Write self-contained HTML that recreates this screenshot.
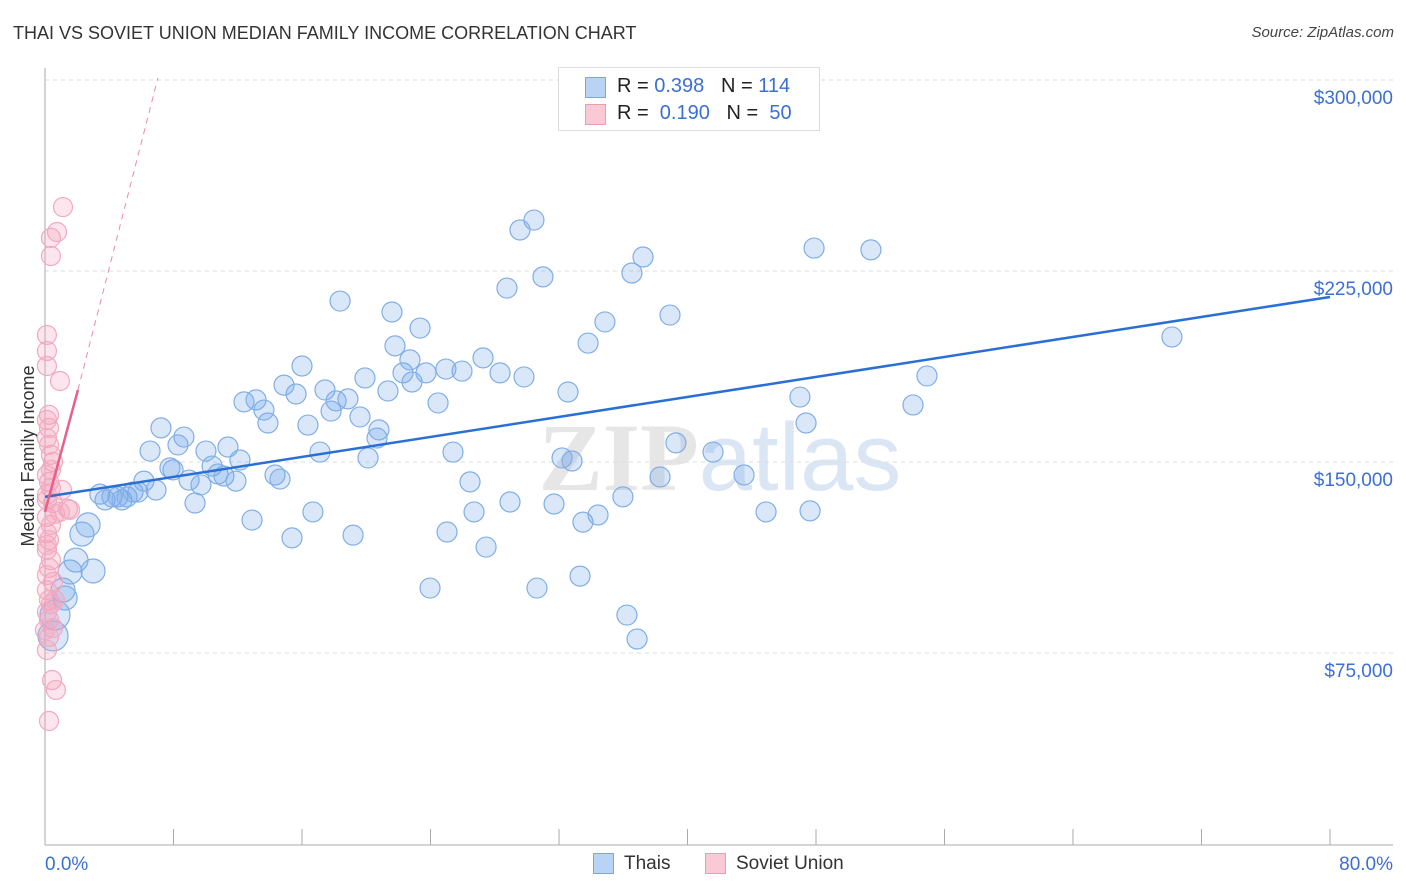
<!DOCTYPE html>
<html><head><meta charset="utf-8"><style>
body{margin:0;background:#fff;font-family:"Liberation Sans",sans-serif;}
#wrap{position:relative;width:1406px;height:892px;overflow:hidden;}
.t{position:absolute;white-space:nowrap;}
</style></head><body>
<div id="wrap">
<div class="t" style="left:13px;top:23px;font-size:18px;color:#333;">THAI VS SOVIET UNION MEDIAN FAMILY INCOME CORRELATION CHART</div>
<div class="t" style="right:12px;top:24px;font-size:15px;color:#444;font-style:italic;">Source: ZipAtlas.com</div>
<svg id="svg" width="1406" height="892" style="position:absolute;left:0;top:0">
<text x="720" y="490" text-anchor="middle" font-size="96" font-family="Liberation Serif" font-weight="bold" fill="#e6e6e6">ZIP<tspan fill="#dbe6f5" font-family="Liberation Sans" font-weight="normal">atlas</tspan></text>
</svg>
<div style="position:absolute;left:558px;top:67px;width:260px;height:62px;border:1px solid #ddd;background:#fff;font-size:20px;color:#222;">
<div style="position:absolute;left:26px;top:9px;width:19px;height:19px;background:#b9d3f5;border:1px solid #7ca6e2;"></div>
<div class="t" style="left:58px;top:7px;">R = <span style="color:#3b6fd4">0.398</span>&nbsp;&nbsp;&nbsp;N = <span style="color:#3b6fd4">114</span></div>
<div style="position:absolute;left:26px;top:36px;width:19px;height:19px;background:#f9c9d6;border:1px solid #ec9bb4;"></div>
<div class="t" style="left:58px;top:34px;">R = &nbsp;<span style="color:#3b6fd4">0.190</span>&nbsp;&nbsp;&nbsp;N = &nbsp;<span style="color:#3b6fd4">50</span></div>
</div>
<div style="position:absolute;left:593px;top:853px;font-size:19px;color:#333;">
<div style="position:absolute;left:0;top:0;width:19px;height:19px;background:#b9d3f5;border:1px solid #7ca6e2;"></div>
<div class="t" style="left:31px;top:0;">Thais</div></div>
<div style="position:absolute;left:705px;top:853px;font-size:19px;color:#333;">
<div style="position:absolute;left:0;top:0;width:19px;height:19px;background:#f9c9d6;border:1px solid #ec9bb4;"></div>
<div class="t" style="left:31px;top:0;">Soviet Union</div></div>
</div>
<script>
const yTicks=[75000,150000,225000,300000];
const yTickLabels=["$75,000","$150,000","$225,000","$300,000"];
const xTickLabels=["0.0%","80.0%"];
const thaiX=[0.50,0.62,1.12,1.25,1.56,1.93,2.30,2.68,2.99,3.42,3.74,4.17,4.54,4.79,5.11,5.48,5.79,6.16,6.54,6.91,7.22,7.78,7.97,8.28,8.65,8.97,9.34,9.71,10.02,10.40,10.77,11.14,11.39,11.89,12.14,12.39,12.89,13.14,13.63,13.88,14.32,14.63,14.88,15.38,15.63,16.00,16.37,16.68,17.12,17.43,17.81,18.12,18.37,18.86,19.18,19.61,19.92,20.11,20.67,20.79,21.35,21.60,21.79,22.29,22.72,22.85,23.35,23.72,23.97,24.47,24.96,25.03,25.40,25.96,26.46,26.71,27.27,27.46,28.33,28.76,28.95,29.57,29.82,30.44,30.63,31.00,31.69,32.19,32.56,32.81,33.31,33.49,33.81,34.43,34.86,35.98,36.23,36.54,36.86,37.23,38.29,38.91,39.28,41.59,43.52,44.89,47.00,47.38,47.63,47.88,51.42,54.04,54.91,70.16];
const thaiY=[81.7,89.9,99.7,96.6,106.8,111.5,121.7,125.3,107.2,137.4,135.1,136.3,136.3,135.1,136.3,138.2,138.2,142.5,154.3,139.0,163.4,147.7,146.9,156.7,159.8,142.9,133.9,141.0,154.3,148.4,145.3,144.5,155.9,142.5,150.8,173.6,127.2,174.4,170.4,165.3,144.9,143.3,180.2,120.2,176.7,187.7,164.5,130.4,153.9,178.3,170.0,174.0,213.2,174.8,121.3,167.7,183.0,151.6,159.4,162.6,177.9,208.9,195.6,185.0,190.1,181.4,202.6,185.0,100.5,173.2,186.5,122.5,153.9,185.7,142.2,130.4,190.9,116.6,185.0,218.3,134.3,241.1,183.4,245.0,100.5,222.7,133.5,151.6,177.5,150.4,105.2,126.4,196.7,129.2,205.0,136.3,89.9,224.2,80.5,230.5,144.1,207.7,157.5,153.9,144.9,130.4,175.5,165.3,130.8,234.0,233.3,172.4,183.8,199.1];
const sovX=[1.12,0.75,0.37,0.37,0.12,0.12,0.12,0.93,0.25,0.12,0.25,0.12,0.37,0.50,0.12,0.25,0.37,1.06,0.12,0.50,1.43,1.56,0.12,0.37,0.12,0.25,0.12,0.37,0.25,0.12,0.50,0.12,0.25,0.37,0.12,0.25,0.50,0.25,0.44,0.68,0.25,0.12,0.12,0.37,0.25,0.62,0.00,0.62,0.12,0.93];
const sovY=[250.1,240.3,238.0,230.9,199.9,193.6,187.7,181.8,168.5,166.5,163.4,159.4,152.8,150.0,144.9,142.2,139.8,139.0,137.1,133.9,131.6,131.2,128.4,125.3,122.1,119.4,115.5,111.5,108.4,105.6,102.9,99.7,95.8,94.2,91.1,88.0,84.8,81.3,64.4,60.5,48.3,117.4,135.1,146.9,156.7,129.6,84.0,95.8,76.2,130.4];
const thaiTrend=[136.3,214.8];
const sovTrend=[130.4,178.3];
const sovSolidEnd=2.05, sovDashEnd=7.03, sovDashEndY=300.8;

const NS="http://www.w3.org/2000/svg";
const svg=document.getElementById('svg');
const X=v=>45+v/80*1285;
const Y=v=>844-v/75000*191;
function mk(t,a){const e=document.createElementNS(NS,t);for(const k in a)e.setAttribute(k,a[k]);svg.appendChild(e);return e;}
yTicks.forEach((v,i)=>{
 const g=mk('line',{x1:45,x2:1393,y1:Y(v),y2:Y(v),stroke:'#ddd','stroke-dasharray':'4,4'});
 
 
 const t=mk('text',{x:1393,y:Y(v)+24,'text-anchor':'end','font-size':19,fill:'#3b6fd4'});
 t.textContent=yTickLabels[i];
 
 
});
const ya=mk('line',{x1:45,x2:45,y1:68,y2:845,stroke:'#aaa'});


const xa=mk('line',{x1:45,x2:1393,y1:845,y2:845,stroke:'#aaa'});


for(let i=1;i<=10;i++){const tk=mk('line',{x1:X(i*8),x2:X(i*8),y1:829,y2:845,stroke:'#aaa'});
 
 }
[[0,'start',45],[80,'end',1393]].forEach((d,i)=>{const t=mk('text',{x:d[2],y:870,'text-anchor':d[1],'font-size':19,fill:'#3b6fd4'});t.textContent=xTickLabels[i];
 
 });
const yt=mk('text',{x:34,y:456,'text-anchor':'middle','font-size':18,fill:'#333',transform:'rotate(-90 34 456)'});
yt.textContent='Median Family Income';


thaiX.forEach((x,i)=>{const r=i<2?15:(i<9?12:10);
 const c=mk('circle',{cx:X(x),cy:Y(thaiY[i]*1000),r:r,fill:'rgba(120,170,235,0.28)',stroke:'#80aee6','stroke-width':1.2});
 
 });
sovX.forEach((x,i)=>{
 const c=mk('circle',{cx:X(x),cy:Y(sovY[i]*1000),r:9.5,fill:'rgba(245,160,185,0.28)',stroke:'#f2aac0','stroke-width':1.2});
 
 });
const tl=mk('line',{x1:X(0),y1:Y(thaiTrend[0]*1000),x2:X(80),y2:Y(thaiTrend[1]*1000),stroke:'#2a6fd6','stroke-width':2.5});


const sd=mk('line',{x1:X(sovSolidEnd),y1:Y(sovTrend[1]*1000),x2:X(sovDashEnd),y2:Y(sovDashEndY*1000),stroke:'#ec8aa8','stroke-width':1,'stroke-dasharray':'6,5'});


const ss=mk('line',{x1:X(0),y1:Y(sovTrend[0]*1000),x2:X(sovSolidEnd),y2:Y(sovTrend[1]*1000),stroke:'#e8608a','stroke-width':2.5});


</script>
</body></html>
